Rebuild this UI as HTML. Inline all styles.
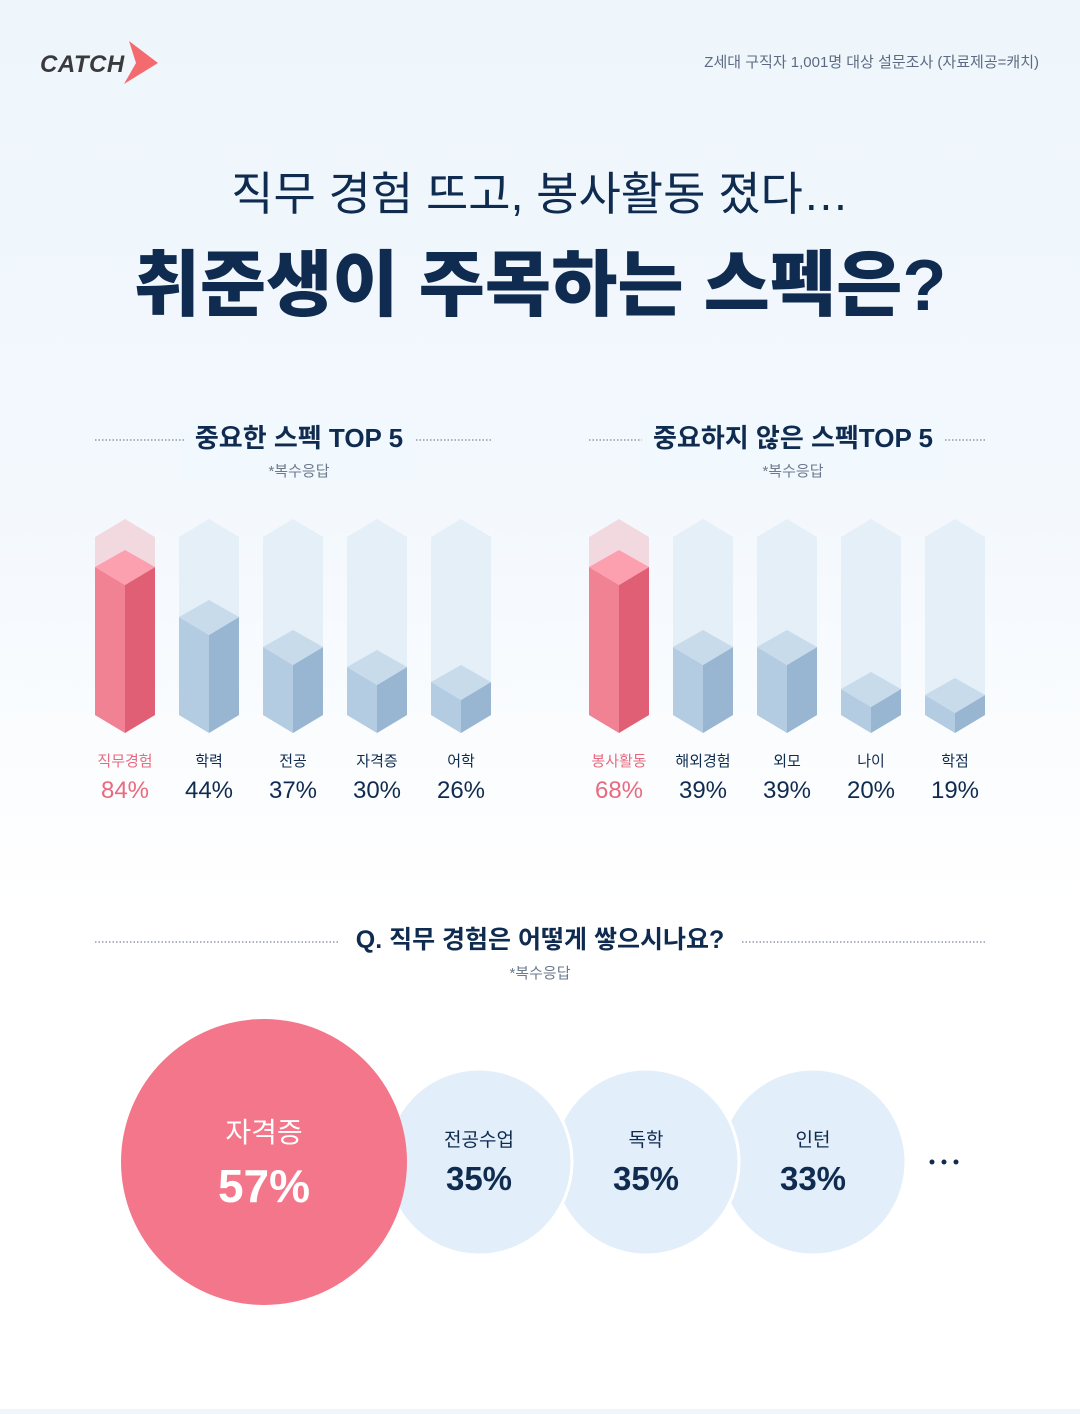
<!DOCTYPE html>
<html><head><meta charset="utf-8"><style>
body{margin:0;width:1080px;height:1409px;overflow:hidden;font-family:"Liberation Sans","Noto Sans CJK KR",sans-serif;background:linear-gradient(#eef6fc 0px,#f3f8fd 500px,#ffffff 900px,#ffffff 1409px);}
svg text{font-family:"Liberation Sans","Noto Sans CJK KR",sans-serif;}
</style></head><body>
<svg width="1080" height="1409" viewBox="0 0 1080 1409" xmlns="http://www.w3.org/2000/svg">
<!-- logo -->
<text x="40" y="72" font-size="24" font-weight="700" font-style="italic" fill="#3a3a3c" letter-spacing="0.5">CATCH</text>
<polygon points="129,41 158,63 124,84 136,63" fill="#f46b6f"/>
<text x="1039" y="67" font-size="15" fill="#5d6b82" text-anchor="end">Z세대 구직자 1,001명 대상 설문조사 (자료제공=캐치)</text>
<text x="540" y="210" font-size="46" fill="#0f2b4f" text-anchor="middle">직무 경험 뜨고, 봉사활동 졌다…</text>
<text x="540" y="310" font-size="72" font-weight="900" fill="#0f2b4f" text-anchor="middle">취준생이 주목하는 스펙은?</text>

<!-- headers -->
<rect x="184" y="420" width="230" height="62" fill="#f1f8fe"/>
<rect x="642" y="420" width="302" height="62" fill="#f1f8fe"/>
<line x1="95" y1="440" x2="184" y2="440" stroke="#5a6a80" stroke-dasharray="1.5,2"/>
<line x1="416" y1="440" x2="491" y2="440" stroke="#5a6a80" stroke-dasharray="1.5,2"/>
<line x1="589" y1="440" x2="642" y2="440" stroke="#5a6a80" stroke-dasharray="1.5,2"/>
<line x1="945" y1="440" x2="985" y2="440" stroke="#5a6a80" stroke-dasharray="1.5,2"/>
<text x="299" y="447" font-size="26" font-weight="700" fill="#0f2b4f" text-anchor="middle">중요한 스펙 TOP 5</text>
<text x="299" y="476" font-size="15" fill="#6d7a8e" text-anchor="middle">*복수응답</text>
<text x="793" y="447" font-size="26" font-weight="700" fill="#0f2b4f" text-anchor="middle">중요하지 않은 스펙TOP 5</text>
<text x="793" y="476" font-size="15" fill="#6d7a8e" text-anchor="middle">*복수응답</text>

<g id="bars"></g>

<!-- Q section -->
<line x1="95" y1="942" x2="338" y2="942" stroke="#5a6a80" stroke-dasharray="1.5,2"/>
<line x1="742" y1="942" x2="985" y2="942" stroke="#5a6a80" stroke-dasharray="1.5,2"/>
<text x="540" y="948" font-size="25" font-weight="700" fill="#0f2b4f" text-anchor="middle">Q. 직무 경험은 어떻게 쌓으시나요?</text>
<text x="540" y="978" font-size="15" fill="#6d7a8e" text-anchor="middle">*복수응답</text>

<circle cx="813" cy="1162" r="93" fill="#e2eef9" stroke="#fff" stroke-width="3"/>
<circle cx="646" cy="1162" r="93" fill="#e2eef9" stroke="#fff" stroke-width="3"/>
<circle cx="479" cy="1162" r="93" fill="#e2eef9" stroke="#fff" stroke-width="3"/>
<circle cx="264" cy="1162" r="143" fill="#f4768a"/>
<text x="264" y="1142" font-size="28" fill="#fff" text-anchor="middle">자격증</text>
<text x="264" y="1202" font-size="46" font-weight="700" fill="#fff" text-anchor="middle">57%</text>
<text x="479" y="1146" font-size="19" fill="#0f2b4f" text-anchor="middle">전공수업</text>
<text x="479" y="1190" font-size="33" font-weight="700" fill="#0f2b4f" text-anchor="middle">35%</text>
<text x="646" y="1146" font-size="19" fill="#0f2b4f" text-anchor="middle">독학</text>
<text x="646" y="1190" font-size="33" font-weight="700" fill="#0f2b4f" text-anchor="middle">35%</text>
<text x="813" y="1146" font-size="19" fill="#0f2b4f" text-anchor="middle">인턴</text>
<text x="813" y="1190" font-size="33" font-weight="700" fill="#0f2b4f" text-anchor="middle">33%</text>
<circle cx="932" cy="1162" r="2.5" fill="#0f2b4f"/><circle cx="944" cy="1162" r="2.5" fill="#0f2b4f"/><circle cx="956" cy="1162" r="2.5" fill="#0f2b4f"/>

<!-- bars -->
<g>
<!-- pink 1 -->
<polygon points="95,537 125,519 155,537 155,715 125,733 95,715" fill="#f2d9e0"/>
<polygon points="95,567 125,585 125,733 95,715" fill="#f08294"/>
<polygon points="125,585 155,567 155,715 125,733" fill="#e05f74"/>
<polygon points="95,567 125,550 155,567 125,585" fill="#fca0b0"/>
<!-- 209 a=600 -->
<polygon points="179,537 209,519 239,537 239,715 209,733 179,715" fill="#e4eff8"/>
<polygon points="179,617 209,635 209,733 179,715" fill="#b3cce2"/>
<polygon points="209,635 239,617 239,715 209,733" fill="#98b6d2"/>
<polygon points="179,617 209,600 239,617 209,635" fill="#c8dbeb"/>
<!-- 293 a=630 -->
<polygon points="263,537 293,519 323,537 323,715 293,733 263,715" fill="#e4eff8"/>
<polygon points="263,647 293,665 293,733 263,715" fill="#b3cce2"/>
<polygon points="293,665 323,647 323,715 293,733" fill="#98b6d2"/>
<polygon points="263,647 293,630 323,647 293,665" fill="#c8dbeb"/>
<!-- 377 a=650 -->
<polygon points="347,537 377,519 407,537 407,715 377,733 347,715" fill="#e4eff8"/>
<polygon points="347,667 377,685 377,733 347,715" fill="#b3cce2"/>
<polygon points="377,685 407,667 407,715 377,733" fill="#98b6d2"/>
<polygon points="347,667 377,650 407,667 377,685" fill="#c8dbeb"/>
<!-- 461 a=665 -->
<polygon points="431,537 461,519 491,537 491,715 461,733 431,715" fill="#e4eff8"/>
<polygon points="431,682 461,700 461,733 431,715" fill="#b3cce2"/>
<polygon points="461,700 491,682 491,715 461,733" fill="#98b6d2"/>
<polygon points="431,682 461,665 491,682 461,700" fill="#c8dbeb"/>
<!-- right pink 619 -->
<polygon points="589,537 619,519 649,537 649,715 619,733 589,715" fill="#f2d9e0"/>
<polygon points="589,567 619,585 619,733 589,715" fill="#f08294"/>
<polygon points="619,585 649,567 649,715 619,733" fill="#e05f74"/>
<polygon points="589,567 619,550 649,567 619,585" fill="#fca0b0"/>
<!-- 703 a=630 -->
<polygon points="673,537 703,519 733,537 733,715 703,733 673,715" fill="#e4eff8"/>
<polygon points="673,647 703,665 703,733 673,715" fill="#b3cce2"/>
<polygon points="703,665 733,647 733,715 703,733" fill="#98b6d2"/>
<polygon points="673,647 703,630 733,647 703,665" fill="#c8dbeb"/>
<!-- 787 a=630 -->
<polygon points="757,537 787,519 817,537 817,715 787,733 757,715" fill="#e4eff8"/>
<polygon points="757,647 787,665 787,733 757,715" fill="#b3cce2"/>
<polygon points="787,665 817,647 817,715 787,733" fill="#98b6d2"/>
<polygon points="757,647 787,630 817,647 787,665" fill="#c8dbeb"/>
<!-- 871 a=672 -->
<polygon points="841,537 871,519 901,537 901,715 871,733 841,715" fill="#e4eff8"/>
<polygon points="841,689 871,707 871,733 841,715" fill="#b3cce2"/>
<polygon points="871,707 901,689 901,715 871,733" fill="#98b6d2"/>
<polygon points="841,689 871,672 901,689 871,707" fill="#c8dbeb"/>
<!-- 955 a=678 -->
<polygon points="925,537 955,519 985,537 985,715 955,733 925,715" fill="#e4eff8"/>
<polygon points="925,695 955,713 955,733 925,715" fill="#b3cce2"/>
<polygon points="955,713 985,695 985,715 955,733" fill="#98b6d2"/>
<polygon points="925,695 955,678 985,695 955,713" fill="#c8dbeb"/>
</g>

<g font-size="15" text-anchor="middle" fill="#0f2b4f">
<text x="125" y="766" fill="#e86a7f">직무경험</text><text x="209" y="766">학력</text><text x="293" y="766">전공</text><text x="377" y="766">자격증</text><text x="461" y="766">어학</text>
<text x="619" y="766" fill="#e86a7f">봉사활동</text><text x="703" y="766">해외경험</text><text x="787" y="766">외모</text><text x="871" y="766">나이</text><text x="955" y="766">학점</text>
</g>
<g font-size="24" text-anchor="middle" fill="#0f2b4f">
<text x="125" y="798" fill="#e86a7f">84%</text><text x="209" y="798">44%</text><text x="293" y="798">37%</text><text x="377" y="798">30%</text><text x="461" y="798">26%</text>
<text x="619" y="798" fill="#e86a7f">68%</text><text x="703" y="798">39%</text><text x="787" y="798">39%</text><text x="871" y="798">20%</text><text x="955" y="798">19%</text>
</g>
</svg>
</body></html>
